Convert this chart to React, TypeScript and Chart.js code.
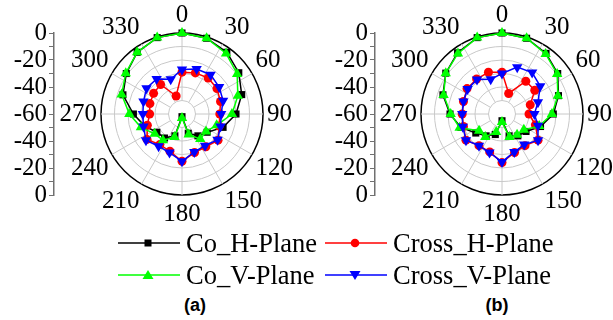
import React, { useEffect, useRef } from 'react';
import { Chart, registerables } from 'chart.js';

Chart.register(...registerables);

// ---------- data ----------
// angles (degrees) of the measured points
const ANGLES = [0, 18, 36, 54, 72, 90, 108, 126, 144, 162, 180, 198, 216, 234, 252, 270, 288, 306, 324, 342];
// angular tick labels
const ANGLE_TICKS = [0, 30, 60, 90, 120, 150, 180, 210, 240, 270, 300, 330];
// left linear axis tick labels, top to bottom
const LEFT_AXIS_TICKS = [0, -20, -40, -60, -40, -20, 0];
const R_MIN = -60;
const R_MAX = 0;
const RING_STEP = 10;

// panel (a)
const A_CO_H = [0, -1, -3.5, -8, -13.5, -20, -28, -37, -40, -45, -58, -43, -38, -37, -31, -24, -14, -9, -3.5, -0.5];
const A_CROSS_H = [-29, -28, -27, -28, -30, -32, -31, -27, -30, -30, -25, -31, -32, -28, -33, -36, -35, -34, -33, -46];
const A_CO_V = [0, -1, -4.5, -9.5, -16.5, -23, -33, -38, -37, -44, -57, -42, -36, -35, -28, -21, -13, -8.5, -3.5, -0.5];
const A_CROSS_V = [-27, -25, -24, -26, -28, -31, -30, -27.5, -31, -30.5, -25, -30, -30.5, -27, -30, -31, -30, -27.5, -28, -33];

// panel (b)
const B_CO_H = [0, -1, -4.5, -9, -16, -22, -30, -38, -40, -43, -55, -44, -40, -36, -28, -21.5, -14, -8.5, -4, -0.5];
const B_CROSS_H = [-29, -44, -30, -30, -38, -40, -34, -27, -31, -30, -24, -30.5, -31, -27, -30, -30.5, -30, -28, -28, -27.5];
const B_CO_V = [0, -1, -5, -9.5, -16.5, -23, -31, -40, -41, -42, -54, -46, -39, -39, -27, -22, -14.5, -8.5, -4.5, -0.5];
const B_CROSS_V = [-30, -23.5, -22, -25, -32, -36, -32, -27, -32, -30.5, -24.5, -30, -31, -27, -29.5, -30.5, -30, -28.5, -28.5, -33];

const SERIES_NAMES = ['Co_H-Plane', 'Cross_H-Plane', 'Co_V-Plane', 'Cross_V-Plane'];
const PANEL_LABELS = ['(a)', '(b)'];

// ---------- styles / geometry ----------
const STYLES = [
  { color: '#000000', pointStyle: 'rect', rotation: 0, radius: 5 },
  { color: '#ff0000', pointStyle: 'circle', rotation: 0, radius: 4.5 },
  { color: '#00ff00', pointStyle: 'triangle', rotation: 0, radius: 6 },
  { color: '#0000ff', pointStyle: 'triangle', rotation: 180, radius: 6 },
];
const SERIF = '"Liberation Serif", "Times New Roman", serif';
const GRID_COLOR = '#c8c8c8';
const AXIS_COLOR = '#707070';
const TICK_FONT_SIZE = 25;

const POLAR_W = 260;
const POLAR_H = 220;
const OUTER_PX = 81; // radius of the 0 dB ring
const HALF = Math.min(POLAR_W, POLAR_H) / 2;
const SCALE_MAX = R_MIN + (R_MAX - R_MIN) * (HALF / OUTER_PX);
const ANGLE_RES = 6;
const LABEL_GAP_X = 4;
const LABEL_GAP_Y = 10;

const polarDecor = {
  id: 'polarDecor',
  beforeDatasetsDraw(chart: any) {
    const s = chart.scales.r;
    const ctx = chart.ctx;
    const rIn = s.getDistanceFromCenterForValue(R_MIN + RING_STEP);
    const rOut = s.getDistanceFromCenterForValue(R_MAX);
    ctx.save();
    ctx.strokeStyle = GRID_COLOR;
    ctx.lineWidth = 1;
    chart.data.labels.forEach((lab: number, i: number) => {
      if (!ANGLE_TICKS.includes(lab)) return;
      const p = s.getPointPosition(i, rIn);
      const q = s.getPointPosition(i, rOut);
      ctx.beginPath();
      ctx.moveTo(p.x, p.y);
      ctx.lineTo(q.x, q.y);
      ctx.stroke();
    });
    ctx.restore();
  },
  afterDraw(chart: any) {
    const s = chart.scales.r;
    const ctx = chart.ctx;
    const rOut = s.getDistanceFromCenterForValue(R_MAX);
    ctx.save();
    ctx.fillStyle = '#000';
    ctx.font = `${TICK_FONT_SIZE}px ${SERIF}`;
    ctx.textAlign = 'center';
    ctx.textBaseline = 'middle';
    const halfH = TICK_FONT_SIZE * 0.34;
    chart.data.labels.forEach((lab: number, i: number) => {
      if (!ANGLE_TICKS.includes(lab)) return;
      const th = (lab * Math.PI) / 180;
      const sn = Math.sin(th);
      const cs = Math.cos(th);
      const txt = String(lab);
      const w = ctx.measureText(txt).width;
      const px = s.getPointPosition(i, rOut + LABEL_GAP_X).x;
      const py = s.getPointPosition(i, rOut + LABEL_GAP_Y).y;
      const x = px + (Math.abs(sn) > 0.01 ? Math.sign(sn) * w / 2 : 0);
      const y = py - (Math.abs(cs) > 0.01 ? Math.sign(cs) * halfH : 0);
      ctx.fillText(txt, x, y + 0.5);
    });
    ctx.restore();
  },
};

function PolarPanel({ series, cx, cy }: { series: number[][]; cx: number; cy: number }) {
  const ref = useRef<HTMLCanvasElement>(null);
  useEffect(() => {
    const gridAngles: number[] = [];
    for (let a = 0; a < 360; a += ANGLE_RES) gridAngles.push(a);
    const datasets = series.map((vals, si) => ({
      label: SERIES_NAMES[si],
      data: gridAngles.map((a) => {
        const k = ANGLES.indexOf(a);
        return k >= 0 ? vals[k] : null;
      }),
      borderColor: STYLES[si].color,
      backgroundColor: STYLES[si].color,
      pointBackgroundColor: STYLES[si].color,
      pointBorderColor: STYLES[si].color,
      pointBorderWidth: 0,
      pointStyle: STYLES[si].pointStyle,
      pointRotation: STYLES[si].rotation,
      pointRadius: STYLES[si].radius,
      borderWidth: 1.5,
      fill: false,
      spanGaps: true,
      tension: 0,
      order: 3 - si,
    }));
    const chart = new Chart(ref.current as HTMLCanvasElement, {
      type: 'radar',
      data: { labels: gridAngles, datasets } as any,
      options: {
        animation: false,
        responsive: false,
        maintainAspectRatio: false,
        events: [],
        layout: { padding: 0 },
        plugins: { legend: { display: false }, tooltip: { enabled: false } },
        scales: {
          r: {
            min: R_MIN,
            max: SCALE_MAX,
            startAngle: 0,
            angleLines: { display: false },
            pointLabels: { display: false },
            ticks: { display: false, stepSize: RING_STEP },
            grid: {
              circular: true,
              color: (c: any) => {
                const v = c.tick ? c.tick.value : NaN;
                if (Math.abs(v - R_MAX) < 1e-6) return '#000000';
                if (v > R_MIN + 1e-6 && v < R_MAX) return GRID_COLOR;
                return 'rgba(0,0,0,0)';
              },
              lineWidth: (c: any) => (c.tick && Math.abs(c.tick.value - R_MAX) < 1e-6 ? 1.5 : 1),
            },
          },
        },
      } as any,
      plugins: [polarDecor],
    });
    return () => chart.destroy();
  }, []);
  return (
    <canvas
      ref={ref}
      width={POLAR_W}
      height={POLAR_H}
      style={{ position: 'absolute', left: cx - Math.floor(POLAR_W / 2), top: cy - Math.floor(POLAR_H / 2) }}
    />
  );
}

const AXIS_W = 60;
const AXIS_PAD = 20;
const AXIS_LINE_X = 54;

function LeftAxis({ left, cy }: { left: number; cy: number }) {
  const ref = useRef<HTMLCanvasElement>(null);
  const h = 2 * OUTER_PX + 2 * AXIS_PAD;
  useEffect(() => {
    const span = R_MAX - R_MIN; // 60
    const chart = new Chart(ref.current as HTMLCanvasElement, {
      type: 'scatter',
      data: { datasets: [] },
      options: {
        animation: false,
        responsive: false,
        maintainAspectRatio: false,
        events: [],
        layout: { padding: { top: AXIS_PAD, bottom: AXIS_PAD, left: 0, right: 0 } },
        plugins: { legend: { display: false }, tooltip: { enabled: false } },
        scales: {
          x: { display: false },
          y: {
            min: -span,
            max: span,
            afterFit: (sc: any) => {
              sc.width = AXIS_LINE_X;
            },
            ticks: {
              stepSize: RING_STEP,
              autoSkip: false,
              padding: 2,
              color: '#000',
              font: { family: SERIF, size: TICK_FONT_SIZE },
              callback: (v: any) => {
                const val = Number(v);
                if (Math.round(val) % 20 !== 0) return '';
                const idx = Math.round((span - val) / 20);
                return String(LEFT_AXIS_TICKS[idx]);
              },
            },
            grid: { drawOnChartArea: false, drawTicks: true, tickLength: 5, color: AXIS_COLOR, lineWidth: 1 },
            border: { display: true, color: AXIS_COLOR, width: 1.5 },
          },
        },
      } as any,
    });
    return () => chart.destroy();
  }, []);
  return (
    <canvas
      ref={ref}
      width={AXIS_W}
      height={h}
      style={{ position: 'absolute', left, top: cy - OUTER_PX - AXIS_PAD }}
    />
  );
}

function Marker({ si, x, y }: { si: number; x: number; y: number }) {
  const c = STYLES[si].color;
  if (si === 0) return <rect x={x - 3.5} y={y - 3.5} width={7} height={7} fill={c} />;
  if (si === 1) return <circle cx={x} cy={y} r={4.3} fill={c} />;
  if (si === 2) return <polygon points={`${x},${y - 5} ${x - 5.5},${y + 4} ${x + 5.5},${y + 4}`} fill={c} />;
  return <polygon points={`${x},${y + 5} ${x - 5.5},${y - 4} ${x + 5.5},${y - 4}`} fill={c} />;
}

function LegendItem({ si, left, cy }: { si: number; left: number; cy: number }) {
  return (
    <div style={{ position: 'absolute', left, top: cy - 16, height: 32, display: 'flex', alignItems: 'center' }}>
      <svg width={62} height={32} style={{ display: 'block' }}>
        <line x1={0} y1={16} x2={62} y2={16} stroke={STYLES[si].color} strokeWidth={1.5} />
        <Marker si={si} x={30} y={16} />
      </svg>
      <span
        style={{
          marginLeft: 6,
          fontFamily: SERIF,
          fontSize: 26.5,
          lineHeight: '32px',
          whiteSpace: 'nowrap',
          color: '#000',
        }}
      >
        {SERIES_NAMES[si]}
      </span>
    </div>
  );
}

export default function App() {
  const panels = [
    { series: [A_CO_H, A_CROSS_H, A_CO_V, A_CROSS_V], cx: 182, axisLeft: 0, labelX: 195 },
    { series: [B_CO_H, B_CROSS_H, B_CO_V, B_CROSS_V], cx: 502, axisLeft: 321, labelX: 497 },
  ];
  const cy = 114;
  return (
    <div
      style={{
        position: 'fixed',
        left: 0,
        top: 0,
        width: 613,
        height: 320,
        overflow: 'hidden',
        background: '#fff',
      }}
    >
      {panels.map((p, i) => (
        <React.Fragment key={i}>
          <LeftAxis left={p.axisLeft} cy={cy} />
          <PolarPanel series={p.series} cx={p.cx} cy={cy} />
          <div
            style={{
              position: 'absolute',
              left: p.labelX - 30,
              width: 60,
              top: 294,
              height: 22,
              lineHeight: '22px',
              textAlign: 'center',
              fontFamily: '"Liberation Sans", Arial, sans-serif',
              fontWeight: 'bold',
              fontSize: 18,
              color: '#000',
            }}
          >
            {PANEL_LABELS[i]}
          </div>
        </React.Fragment>
      ))}
      <LegendItem si={0} left={118} cy={243} />
      <LegendItem si={1} left={325} cy={243} />
      <LegendItem si={2} left={118} cy={275} />
      <LegendItem si={3} left={325} cy={275} />
    </div>
  );
}
